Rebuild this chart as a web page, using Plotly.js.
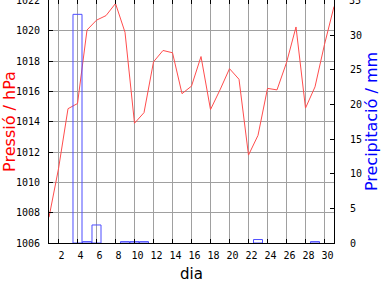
<!DOCTYPE html>
<html>
<head>
<meta charset="utf-8">
<script src="https://cdn.plot.ly/plotly-3.0.1.min.js"></script>
<style>html,body{margin:0;padding:0;background:#fff;}#chart{width:384px;height:288px;}</style>
</head>
<body>
<div id="chart"></div>
<script>
// Pressure readings (hPa), days 1..31
const pressureDays = [1,2,3,4,5,6,7,8,9,10,11,12,13,14,15,16,17,18,19,20,21,22,23,24,25,26,27,28,29,30,31];
const pressure = [1007.7,1010.9,1014.86,1015.2,1020.05,1020.7,1021.0,1021.8,1019.9,1013.9,1014.6,1017.95,1018.7,1018.55,1015.85,1016.35,1018.3,1014.8,1016.1,1017.5,1016.8,1011.8,1013.1,1016.2,1016.1,1017.9,1020.25,1014.9,1016.3,1019.1,1021.6];
// Precipitation (mm), days 1..30
const precipDays = [1,2,3,4,5,6,7,8,9,10,11,12,13,14,15,16,17,18,19,20,21,22,23,24,25,26,27,28,29,30];
const precip = [0,0,0,33.0,0.2,2.6,0,0,0.2,0.2,0.2,0,0,0,0,0,0,0,0,0,0,0,0.5,0,0,0,0,0,0.2,0];
const xTicks = [2,4,6,8,10,12,14,16,18,20,22,24,26,28,30];
const pressTicks = [1006,1008,1010,1012,1014,1016,1018,1020,1022];
const precipTicks = [0,5,10,15,20,25,30,35];

const tickFont = {family: 'DejaVu Sans Mono', size: 10, color: '#000'};

const traces = [
  {
    x: pressureDays, y: pressure, type: 'scatter', mode: 'lines',
    line: {color: '#ff4d4d', width: 1}, yaxis: 'y', hoverinfo: 'skip', cliponaxis: false
  },
  {
    x: precipDays, y: precip, type: 'bar', width: 0.95, yaxis: 'y2',
    marker: {color: 'rgba(0,0,0,0)', line: {color: '#4d4dff', width: precip.map(v => v > 0 ? 1 : 0)}}, hoverinfo: 'skip'
  }
];

const topPress = pressTicks[pressTicks.length - 1];
const topPrecip = precipTicks[precipTicks.length - 1];

const layout = {
  width: 384, height: 288,
  margin: {l: 49, r: 50, t: 0, b: 45, pad: 0},
  paper_bgcolor: '#fff', plot_bgcolor: '#fff',
  showlegend: false,
  bargap: 0,
  xaxis: {
    range: [1, 31], tickvals: xTicks, ticktext: xTicks.map(String),
    showgrid: true, gridcolor: '#a0a0a0', gridwidth: 1,
    ticks: 'inside', ticklen: 4, tickcolor: '#000', tickwidth: 1,
    showline: true, linecolor: '#000', linewidth: 1, mirror: 'ticks',
    zeroline: false, tickfont: tickFont, ticklabelshift: 3, ticklabelstandoff: 3,
    title: {text: 'dia', font: {family: 'DejaVu Sans', size: 15, color: '#000'}, standoff: 8}
  },
  yaxis: {
    range: [1006, 1022.03], tickvals: pressTicks, ticktext: pressTicks.map(String),
    showgrid: true, gridcolor: '#a0a0a0', gridwidth: 1,
    ticks: 'inside', ticklen: 4, tickcolor: '#000', tickwidth: 1,
    showline: true, linecolor: '#000', linewidth: 1,
    zeroline: false, tickfont: tickFont, ticklabelstandoff: 6,
    title: {text: 'Pressió / hPa', font: {family: 'DejaVu Sans', size: 16, color: '#ff0000'}, standoff: 1}
  },
  yaxis2: {
    range: [0, 35.07], tickvals: precipTicks, ticktext: precipTicks.map(String), overlaying: 'y', side: 'right',
    showgrid: false, ticks: 'inside', ticklen: 4, tickcolor: '#000', tickwidth: 1,
    showline: true, linecolor: '#000', linewidth: 1,
    zeroline: false, tickfont: tickFont, ticklabelstandoff: 13,
    title: {text: 'Precipitació / mm', font: {family: 'DejaVu Sans', size: 16, color: '#0000ff'}, standoff: 0}
  },
  annotations: [
    {text: String(topPress), xref: 'paper', x: 0, xanchor: 'right', xshift: -8,
     yref: 'y', y: topPress, yanchor: 'middle', showarrow: false, borderpad: 0, font: tickFont},
    {text: String(topPrecip), xref: 'paper', x: 1, xanchor: 'left', xshift: 14,
     yref: 'y2', y: topPrecip, yanchor: 'middle', showarrow: false, borderpad: 0, font: tickFont}
  ]
};

Plotly.newPlot('chart', traces, layout, {staticPlot: true, displayModeBar: false});
</script>
</body>
</html>
